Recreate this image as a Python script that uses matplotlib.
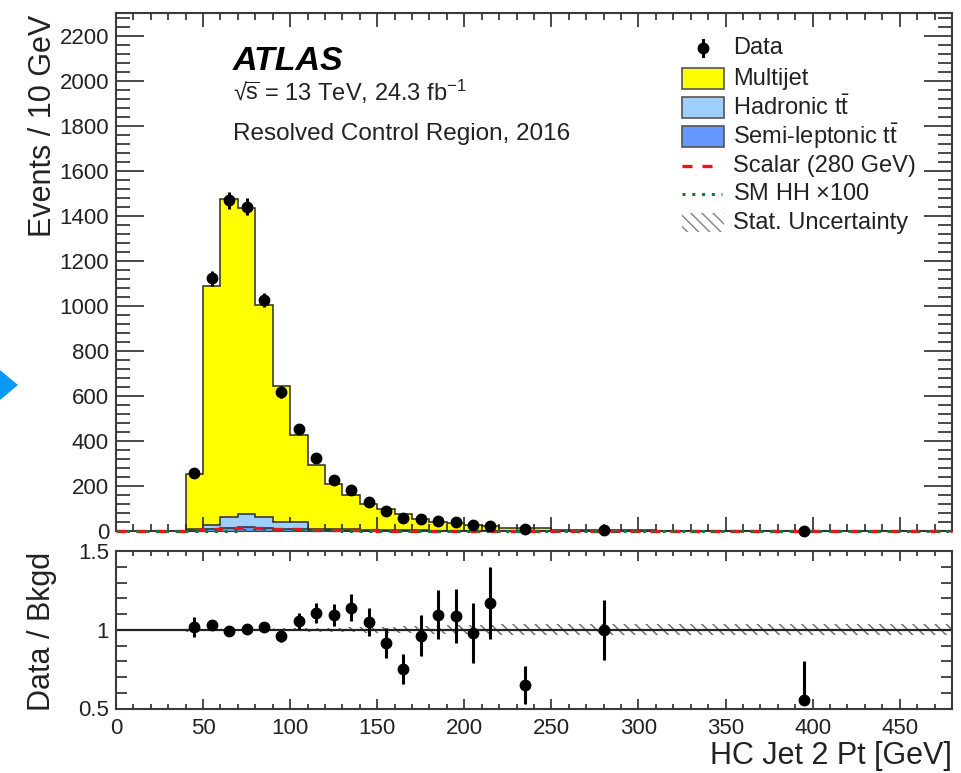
import matplotlib
matplotlib.use("Agg")
import matplotlib.pyplot as plt
from matplotlib.patches import Rectangle, Polygon
from matplotlib.ticker import MultipleLocator
import numpy as np

plt.rcParams['font.family'] = ['Liberation Sans', 'DejaVu Sans']
plt.rcParams['mathtext.fontset'] = 'custom'
plt.rcParams['mathtext.rm'] = 'Liberation Sans'
plt.rcParams['mathtext.it'] = 'Liberation Sans:italic'
plt.rcParams['mathtext.bf'] = 'Liberation Sans:bold'
plt.rcParams['hatch.linewidth'] = 1.1

# ---- binning (GeV); contents are events per 10 GeV ----
bin_edges = [40, 50, 60, 70, 80, 90, 100, 110, 120, 130, 140, 150, 160, 170,
             180, 190, 200, 210, 220, 250, 310, 480]
sig_edges = [0, 10, 20, 30] + bin_edges

data = [258, 1122, 1468, 1440, 1025, 618, 452, 322, 228, 180, 128, 88, 58, 52,
        46, 38, 27, 24, 8.0, 4.6, 0.3]
multijet = [247, 1062, 1412, 1361, 941, 606, 390, 280, 200.5, 151, 116.5, 91.8,
            73.5, 51.2, 39.8, 33.2, 26.2, 19.4, 11.6, 4.3, 0.5]
hadronic_tt = [5, 20, 50, 58, 50, 30, 30, 8, 6, 5, 4, 3, 2.5, 2, 1.6, 1.3, 1,
               0.8, 0.5, 0.2, 0.03]
semilep_tt = [2, 7, 14, 17, 14, 8, 8, 3, 2.5, 2, 1.5, 1.2, 1, 0.8, 0.6, 0.5,
              0.4, 0.3, 0.2, 0.1, 0.01]
scalar_280 = [0, 0, 0, 0, 3, 9, 14, 15, 13, 10, 7, 5, 4, 3, 2.5, 2, 1.5, 1,
              0.8, 0.6, 0.5, 0.4, 0.2, 0.05, 0.01]
sm_hh_x100 = [0, 0, 0, 0, 0.5, 1, 2, 2.5, 3, 3, 3, 2.8, 2.5, 2.2, 2, 1.8, 1.5,
              1.3, 1.1, 1, 0.8, 0.7, 0.4, 0.2, 0.05]

# data/background uncertainties and relative background stat. uncertainty
ratio_err_lo = [0.063, 0.031, 0.026, 0.026, 0.032, 0.04, 0.05, 0.062, 0.07,
                0.085, 0.09, 0.095, 0.095, 0.13, 0.157, 0.17, 0.19, 0.23,
                0.12, 0.19, 0.03]
ratio_err_hi = [0.063, 0.031, 0.026, 0.026, 0.032, 0.04, 0.05, 0.062, 0.07,
                0.085, 0.09, 0.095, 0.095, 0.13, 0.157, 0.17, 0.19, 0.23,
                0.12, 0.19, 0.247]
bkg_stat_rel = [0.012, 0.007, 0.006, 0.006, 0.007, 0.008, 0.01, 0.012, 0.014,
                0.016, 0.018, 0.02, 0.022, 0.024, 0.026, 0.028, 0.03, 0.033,
                0.035, 0.035, 0.035]

x_ticks = [0, 50, 100, 150, 200, 250, 300, 350, 400, 450]
y_ticks = [0, 200, 400, 600, 800, 1000, 1200, 1400, 1600, 1800, 2000, 2200]
ratio_ticks = [0.5, 1, 1.5]

C_MJ = '#ffff00'
C_HAD = '#9fcfff'
C_SEMI = '#6699ff'
C_EDGE = '#2b2b2b'
C_SIG = '#e8141c'
C_HH = '#0f7a3c'
FRAME = '#3a3a3a'

edges = np.array(bin_edges, dtype=float)
centers = 0.5 * (edges[:-1] + edges[1:])
mj = np.array(multijet)
had = np.array(hadronic_tt)
semi = np.array(semilep_tt)
bkg = mj + had + semi
dat = np.array(data)
ratio = dat / bkg
top_err_lo = np.array(ratio_err_lo) * bkg
top_err_hi = np.array(ratio_err_hi) * bkg

W, H = 962, 773
fig = plt.figure(figsize=(W / 100, H / 100), dpi=100)

L, R = 116, 952
ax = fig.add_axes([L / W, 1 - 531 / H, (R - L) / W, (531 - 13) / H])
rax = fig.add_axes([L / W, 1 - 708.5 / H, (R - L) / W, (708.5 - 551) / H])

# ---- stacked background ----
lvl1 = semi
lvl2 = semi + had
lvl3 = bkg
ax.stairs(lvl3, edges, baseline=0, fill=True, color=C_MJ, lw=0, zorder=1)
ax.stairs(lvl2, edges, baseline=0, fill=True, color=C_HAD, lw=0, zorder=2)
ax.stairs(lvl1, edges, baseline=0, fill=True, color=C_SEMI, lw=0, zorder=3)
for lv in (lvl3, lvl2, lvl1):
    ax.stairs(lv, edges, baseline=0, fill=False, color=C_EDGE, lw=1.1, zorder=4)

# ---- signals (drawn over the frame so the zero line stays visible) ----
ax.stairs(scalar_280, sig_edges, baseline=None, color=C_SIG, lw=2.4,
          linestyle=(0, (3, 3)), zorder=5, clip_on=False)
ax.stairs(sm_hh_x100, sig_edges, baseline=None, color=C_HH, lw=2.2,
          linestyle=(3, (1, 2.2)), zorder=5, clip_on=False)

# ---- data ----
ax.errorbar(centers, dat, yerr=[np.minimum(top_err_lo, dat), top_err_hi],
            fmt='o', color='black', ms=7.5, elinewidth=2.2, capsize=0,
            zorder=6, clip_on=False)

ax.set_xlim(0, 480)
ax.set_ylim(0, 2300)
ax.xaxis.set_major_locator(MultipleLocator(50))
ax.xaxis.set_minor_locator(MultipleLocator(10))
ax.set_yticks(y_ticks)
ax.yaxis.set_minor_locator(MultipleLocator(40))
ax.tick_params(axis='both', which='both', direction='in', top=True, right=True,
               colors=FRAME, labelcolor='#222222', width=1.3)
ax.tick_params(axis='y', which='major', length=20, labelsize=16, pad=5)
ax.tick_params(axis='y', which='minor', length=10)
ax.tick_params(axis='x', which='major', length=10, labelbottom=False)
ax.tick_params(axis='x', which='minor', length=5)
for s in ax.spines.values():
    s.set_color(FRAME)
    s.set_linewidth(1.5)
ax.set_ylabel('Events / 10 GeV', fontsize=22, loc='top', color='#222222')
ax.yaxis.set_label_coords(-0.069, 0.996)

# ---- labels ----
ax.text((233 - L) / (R - L), (531 - 70) / 518, 'ATLAS', transform=ax.transAxes,
        fontsize=24.5, fontweight='bold', fontstyle='italic', va='baseline',
        ha='left', color='black')
ax.text((233 - L) / (R - L), (531 - 101) / 518,
        '\u221a' + r'$\overline{\mathrm{s}}$' + ' = 13 TeV, 24.3 fb$^{\\mathrm{-1}}$',
        transform=ax.transAxes, fontsize=17, va='baseline', ha='left',
        color='#222222')
ax.text((233 - L) / (R - L), (531 - 140) / 518,
        'Resolved Control Region, 2016', transform=ax.transAxes, fontsize=17.5,
        va='baseline', ha='left', color='#222222')

# ---- legend ----
def ax_xy(px, py):
    return (px - L) / (R - L), (531 - py) / 518

rows = [48, 78.5, 107.5, 136.5, 166, 194, 222.5]
labels = ['Data', 'Multijet', r'Hadronic t$\bar{\mathrm{t}}$',
          r'Semi-leptonic t$\bar{\mathrm{t}}$', 'Scalar (280 GeV)',
          r'SM HH $\times$100', 'Stat. Uncertainty']
bx0, bx1, bh = 682, 724, 20
for lab, ry in zip(labels, rows):
    tx, ty = ax_xy(733, ry)
    ax.text(tx, ty, lab, transform=ax.transAxes, fontsize=17, va='center',
            ha='left', color='#222222')

# data marker
mx, my = ax_xy(703, rows[0])
_, my0 = ax_xy(703, rows[0] + 8)
_, my1 = ax_xy(703, rows[0] - 8)
ax.plot([mx, mx], [my0, my1], transform=ax.transAxes, color='black', lw=2.2,
        clip_on=False)
ax.plot([mx], [my], 'o', transform=ax.transAxes, color='black', ms=7.5,
        clip_on=False)
# filled boxes
for ry, fc in zip(rows[1:4], [C_MJ, C_HAD, C_SEMI]):
    x0, y0 = ax_xy(bx0, ry + bh / 2)
    x1, y1 = ax_xy(bx1, ry - bh / 2)
    ax.add_patch(Rectangle((x0, y0), x1 - x0, y1 - y0, transform=ax.transAxes,
                           facecolor=fc, edgecolor='#555555', lw=1.2,
                           clip_on=False))
# lines
lx0, ly = ax_xy(bx0, rows[4])
lx1, _ = ax_xy(bx1 - 2, rows[4])
ax.plot([lx0, lx1], [ly, ly], transform=ax.transAxes, color=C_SIG, lw=2.4,
        linestyle=(0, (3, 3)), clip_on=False)
lx0, ly = ax_xy(bx0, rows[5])
ax.plot([lx0, lx1], [ly, ly], transform=ax.transAxes, color=C_HH, lw=2.2,
        linestyle=(0, (1, 2.2)), clip_on=False)
# hatched box
x0, y0 = ax_xy(bx0, rows[6] + 9)
x1, y1 = ax_xy(bx1, rows[6] - 9)
ax.add_patch(Rectangle((x0, y0), x1 - x0, y1 - y0, transform=ax.transAxes,
                       facecolor='none', edgecolor='#8a8a8a', lw=0,
                       hatch='\\\\\\', clip_on=False))

# ---- ratio panel ----
stat = np.array(bkg_stat_rel)
rax.stairs(1 + stat, edges, baseline=1 - stat, fill=True, facecolor='none',
           edgecolor='#707070', lw=0, hatch='\\\\\\', zorder=1)
rax.axhline(1.0, color='#222222', lw=1.6, zorder=2)
rax.errorbar(centers, ratio, yerr=[ratio_err_lo, ratio_err_hi], fmt='o',
             color='black', ms=7.5, elinewidth=2.2, capsize=0, zorder=4)
rax.set_xlim(0, 480)
rax.set_ylim(0.5, 1.5)
rax.set_xticks(x_ticks)
rax.xaxis.set_minor_locator(MultipleLocator(10))
rax.set_yticks(ratio_ticks)
rax.set_yticklabels(['0.5', '1', '1.5'])
rax.yaxis.set_minor_locator(MultipleLocator(0.1))
rax.tick_params(axis='both', which='both', direction='in', top=True, right=True,
                colors=FRAME, labelcolor='#222222', width=1.3)
rax.tick_params(axis='x', which='major', length=7, labelsize=16, pad=7)
rax.tick_params(axis='x', which='minor', length=3.5)
rax.tick_params(axis='y', which='major', length=10, labelsize=16, pad=5)
rax.tick_params(axis='y', which='minor', length=8)
for s in rax.spines.values():
    s.set_color(FRAME)
    s.set_linewidth(1.5)
rax.set_ylabel('Data / Bkgd', fontsize=22, color='#222222')
rax.yaxis.set_label_coords(-0.0706, 0.49)
rax.set_xlabel('HC Jet 2 Pt [GeV]', fontsize=22, loc='right', color='#222222')
rax.xaxis.set_label_coords(1.0, -0.205)

# ---- side marker ----
fig.patches.append(Polygon([(0, 1 - 370 / H), (18 / W, 1 - 385 / H),
                            (0, 1 - 400 / H)], closed=True,
                           transform=fig.transFigure, facecolor='#0a9af5',
                           edgecolor='none'))

fig.savefig('out.png', dpi=100)
